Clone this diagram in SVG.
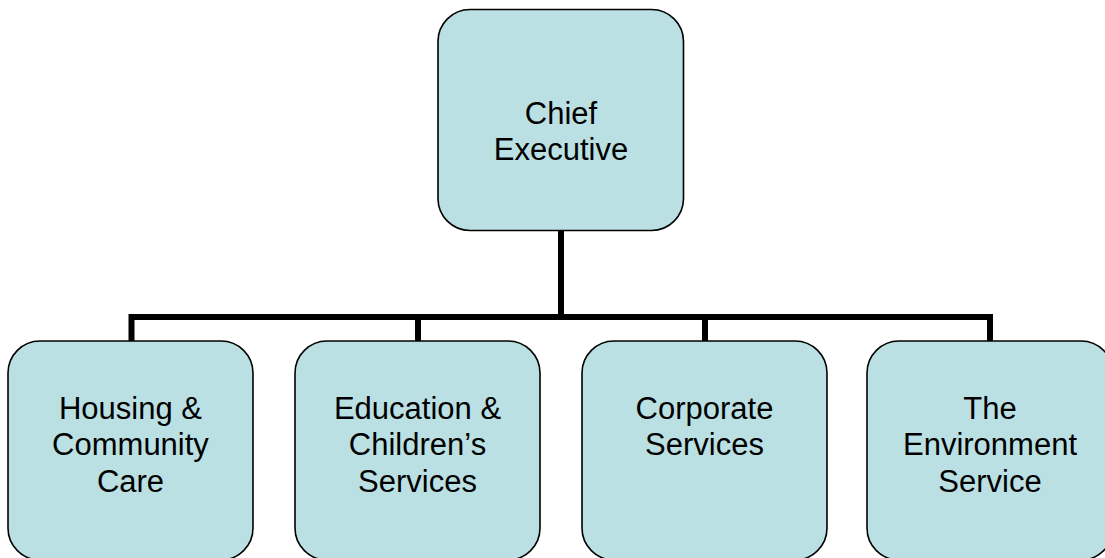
<svg xmlns="http://www.w3.org/2000/svg" width="1105" height="558" viewBox="0 0 1105 558">
<style>
.box{fill:#BBE0E3;stroke:#000;stroke-width:1.6}
.lbl{font-family:"Liberation Sans",Arial,sans-serif;font-size:31px;fill:#000;text-anchor:middle}
.conn{fill:none;stroke:#000;stroke-width:6}
</style>
<rect width="1105" height="558" fill="#fff"/>
<g id="connectors">
<path class="conn" d="M561 231 V317"/>
<path class="conn" d="M131.5 341 V317 H990 V341"/>
<path class="conn" d="M418 317 V341"/>
<path class="conn" d="M705 317 V341"/>
</g>
<g id="chief-executive">
<rect class="box" x="438" y="9.5" width="245.5" height="221" rx="32" ry="32"/>
<text class="lbl" x="561" y="124.3">Chief</text>
<text class="lbl" x="561" y="160.3">Executive</text>
</g>
<g id="housing">
<rect class="box" x="8" y="341" width="245" height="219" rx="32" ry="32"/>
<text class="lbl" x="130.5" y="419.3">Housing &amp;</text>
<text class="lbl" x="130.5" y="455.3">Community</text>
<text class="lbl" x="130.5" y="491.5">Care</text>
</g>
<g id="education">
<rect class="box" x="295" y="341" width="245" height="219" rx="32" ry="32"/>
<text class="lbl" x="417.5" y="419.3">Education &amp;</text>
<text class="lbl" x="417.5" y="455.3">Children’s</text>
<text class="lbl" x="417.5" y="491.5">Services</text>
</g>
<g id="corporate">
<rect class="box" x="582" y="341" width="245" height="219" rx="32" ry="32"/>
<text class="lbl" x="704.5" y="418.5">Corporate</text>
<text class="lbl" x="704.5" y="454.5">Services</text>
</g>
<g id="environment">
<rect class="box" x="867" y="341" width="246" height="219" rx="32" ry="32"/>
<text class="lbl" x="990" y="419.3">The</text>
<text class="lbl" x="990" y="455.3">Environment</text>
<text class="lbl" x="990" y="491.5">Service</text>
</g>
</svg>
